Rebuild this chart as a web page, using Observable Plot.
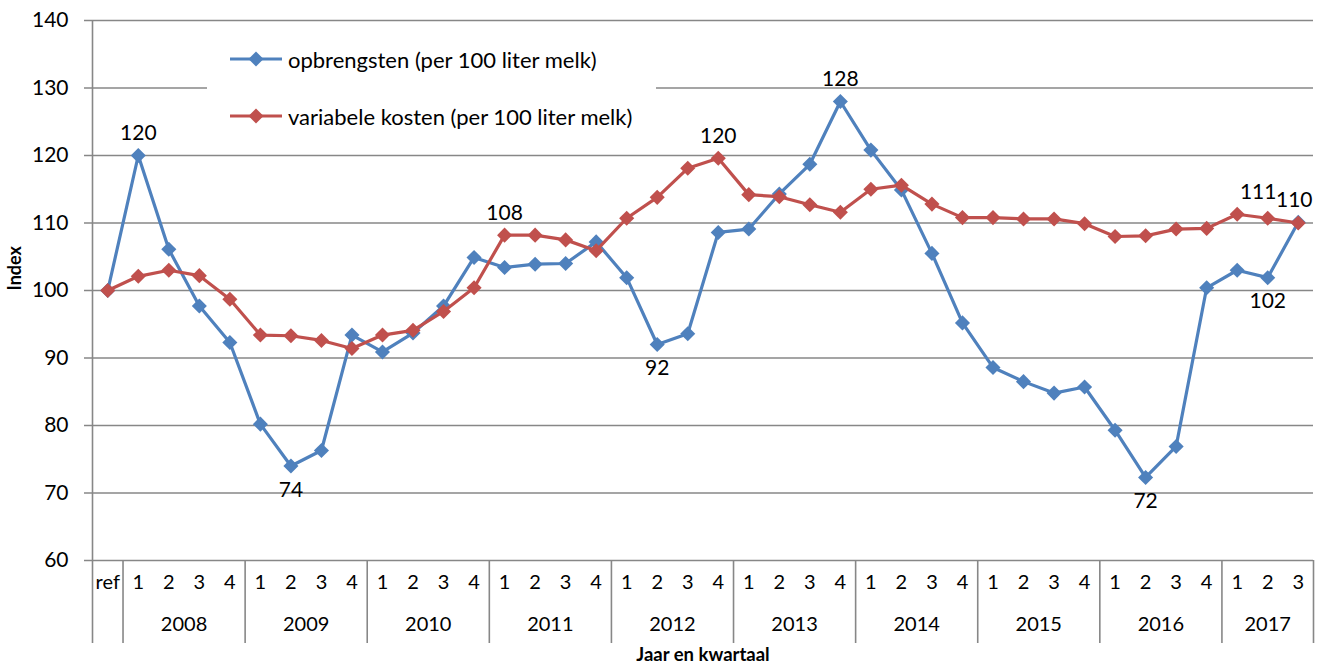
<!DOCTYPE html>
<html><head><meta charset="utf-8">
<script src="https://cdn.jsdelivr.net/npm/d3@7"></script>
<script src="https://cdn.jsdelivr.net/npm/@observablehq/plot@0.6"></script>
<style>
body{margin:0;background:#fff;font-family:Lato, "Open Sans", sans-serif}
#wrap{position:relative;width:1325px;height:670px}
#legend{position:absolute;left:207px;top:32px;width:449px;height:92px;background:#fff}
.row{position:absolute;left:0;height:30px;display:flex;align-items:center;font-size:22px;color:#000;white-space:nowrap}
.row svg{margin-left:22px;margin-right:5px}
</style></head>
<body><div id="wrap"><div id="chart"></div><div id="legend"></div></div>
<script>
const quarters = ["ref",
  "1","2","3","4", "1","2","3","4", "1","2","3","4", "1","2","3","4", "1","2","3","4",
  "1","2","3","4", "1","2","3","4", "1","2","3","4", "1","2","3","4", "1","2","3"];
const years = ["2008","2009","2010","2011","2012","2013","2014","2015","2016","2017"];
const yTicks = [60, 70, 80, 90, 100, 110, 120, 130, 140];
const opbrengsten = [100,
  120, 106.1, 97.7, 92.3,
  80.2, 74, 76.3, 93.4,
  90.9, 93.7, 97.7, 104.9,
  103.4, 103.9, 104, 107.2,
  101.9, 92, 93.6, 108.6,
  109.1, 114.3, 118.7, 128,
  120.8, 114.9, 105.5, 95.2,
  88.6, 86.5, 84.8, 85.7,
  79.3, 72.3, 76.9, 100.4,
  103, 101.9, 110.1];
const kosten = [100,
  102.1, 103, 102.2, 98.7,
  93.4, 93.3, 92.6, 91.4,
  93.4, 94.1, 96.9, 100.4,
  108.2, 108.2, 107.5, 105.9,
  110.7, 113.8, 118.1, 119.6,
  114.2, 113.9, 112.7, 111.6,
  115, 115.6, 112.8, 110.8,
  110.8, 110.6, 110.6, 109.9,
  108, 108.1, 109.1, 109.2,
  111.3, 110.7, 110];
const seriesNames = ["opbrengsten (per 100 liter melk)", "variabele kosten (per 100 liter melk)"];
const colors = ["#4F81BD", "#C0504D"];
// data labels: [period index, placement]
const labelsOpbrengsten = [[1, "above"], [6, "below"], [18, "below"], [24, "above"], [34, "below"], [38, "below"], [39, "above-left"]];
const labelsKosten = [[13, "above"], [20, "above"], [37, "above-right"]];

const periods = quarters.map((q, i) => ({i, q, year: i === 0 ? null : years[Math.floor((i - 1) / 4)]}));
const yearGroups = Array.from(d3.group(periods.filter(p => p.year), p => p.year), ([year, ps]) => ({
  year, center: (d3.min(ps, p => p.i) + d3.max(ps, p => p.i)) / 2, end: d3.max(ps, p => p.i) + 0.5
}));
const separators = [0.5, ...yearGroups.map(g => g.end)];

const labelData = [
  ...labelsOpbrengsten.map(([i, pos]) => ({i, v: opbrengsten[i], pos})),
  ...labelsKosten.map(([i, pos]) => ({i, v: kosten[i], pos}))
];
const placements = [
  {pos: "above", dx: 0, dy: -22},
  {pos: "below", dx: 0, dy: 24},
  {pos: "above-right", dx: 21, dy: -22},
  {pos: "above-left", dx: -4, dy: -22}
];
const labelMarks = placements.map(p =>
  Plot.text(labelData.filter(d => d.pos === p.pos), {
    x: "i", y: "v", text: d => String(Math.round(d.v)), dx: p.dx, dy: p.dy, fontSize: 21
  }));

const font = "Lato, 'Open Sans', sans-serif";
const gridColor = "#878787";
const chart = Plot.plot({
  width: 1325, height: 670,
  marginLeft: 92, marginRight: 12, marginTop: 20, marginBottom: 110,
  style: {fontFamily: font, fontSize: "20px", background: "white", color: "#000", overflow: "visible"},
  x: {type: "linear", domain: [-0.5, 39.5], axis: null},
  y: {domain: [60, 140], axis: null},
  marks: [
    Plot.ruleY(yTicks, {x1: -0.5, x2: 39.5, insetLeft: -8, stroke: gridColor, strokeWidth: 1.6}),
    Plot.ruleX([-0.5], {insetBottom: -83, stroke: gridColor, strokeWidth: 1.6}),
    Plot.ruleX(separators, {y1: 60, y2: 60, insetBottom: -83, stroke: gridColor, strokeWidth: 1.6}),
    Plot.axisY({ticks: yTicks, tickSize: 0, tickPadding: 24, fontSize: 21, label: null, tickFormat: d => d}),
    Plot.text(periods, {x: "i", text: "q", frameAnchor: "bottom", dy: 28, fontSize: 20}),
    Plot.text(yearGroups, {x: "center", text: "year", frameAnchor: "bottom", dy: 70, fontSize: 20}),
    Plot.text(["Jaar en kwartaal"], {frameAnchor: "bottom", dy: 100, fontWeight: "bold", fontSize: 18.5}),
    Plot.text(["Index"], {frameAnchor: "left", dx: -77, rotate: -90, fontWeight: "bold", fontSize: 18}),
    Plot.line(opbrengsten, {x: (d, i) => i, y: d => d, stroke: colors[0], strokeWidth: 3.2}),
    Plot.dot(opbrengsten, {x: (d, i) => i, y: d => d, symbol: "diamond2", r: 6.8, fill: colors[0]}),
    Plot.line(kosten, {x: (d, i) => i, y: d => d, stroke: colors[1], strokeWidth: 3.2}),
    Plot.dot(kosten, {x: (d, i) => i, y: d => d, symbol: "diamond2", r: 6.8, fill: colors[1]}),
    ...labelMarks
  ]
});
document.getElementById("chart").appendChild(chart);

const legend = document.getElementById("legend");
seriesNames.forEach((name, k) => {
  const row = document.createElement("div");
  row.className = "row";
  row.style.top = (k === 0 ? 12 : 69) + "px";
  row.innerHTML = `<svg width="54" height="18"><line x1="1" x2="53" y1="9" y2="9" stroke="${colors[k]}" stroke-width="3.2"/><path d="M27,1.5L34.5,9L27,16.5L19.5,9Z" fill="${colors[k]}"/></svg><span>${name}</span>`;
  legend.appendChild(row);
});
</script>
</body></html>
